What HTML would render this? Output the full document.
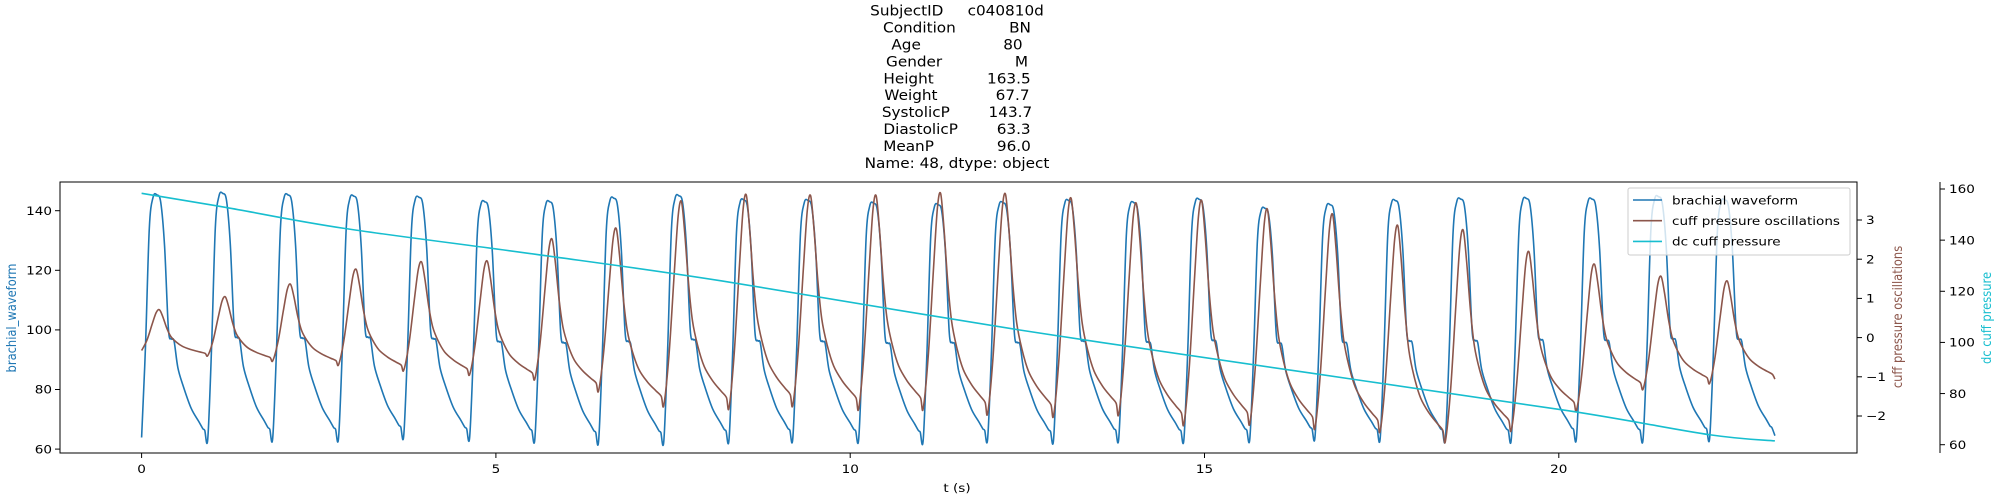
<!DOCTYPE html>
<html><head><meta charset="utf-8"><title>Brachial waveform chart</title>
<style>html,body{margin:0;padding:0;background:#fff}svg{display:block}text{font-family:"DejaVu Sans","Liberation Sans",sans-serif}</style>
</head><body>
<svg id="chart" xmlns="http://www.w3.org/2000/svg" width="2000" height="500" viewBox="0 0 2000 500">
<rect x="0" y="0" width="2000" height="500" fill="#fff"/>
<g id="title"></g>
<g id="series"></g>
<g id="axes"></g>
<g id="legend"></g>
</svg>
<script>
const titleLines = ["SubjectID     c040810d","Condition           BN","Age                 80","Gender               M","Height           163.5","Weight            67.7","SystolicP        143.7","DiastolicP        63.3","MeanP             96.0","Name: 48, dtype: object"];
const xTicks = [0,5,10,15,20];
const leftTicks = [60,80,100,120,140];
const cuffTicks = [-2,-1,0,1,2,3];
const dcTicks = [60,80,100,120,140,160];
const beatFeet = [0,0.934,1.851,2.78,3.70,4.63,5.55,6.45,7.37,8.29,9.19,10.12,11.03,11.94,12.87,13.79,14.71,15.64,16.56,17.48,18.40,19.33,20.25,21.19,22.13,23.05];
const bpPeak = [145.3,145.8,145.3,144.9,144.5,143.0,143.0,144.2,145.0,143.6,143.4,142.5,142.0,142.7,143.4,142.7,143.8,140.8,142.0,143.4,143.9,144.1,143.9,144.7,143.6];
const bpFoot = [63.9,63.5,63.9,63.9,64.7,64.1,63.5,62.9,62.8,63.3,63.6,63.4,63.0,63.6,63.2,63.6,63.4,63.6,64.2,63.8,63.6,63.5,63.9,63.6,64.0,64.5];
const cpStart = -0.33;
const cpPeak = [0.71,1.04,1.36,1.74,1.93,1.95,2.51,2.78,3.47,3.64,3.62,3.62,3.68,3.66,3.55,3.42,3.49,3.27,3.14,2.85,2.74,2.19,1.87,1.56,1.44];
const cpTrough = [-0.46,-0.59,-0.69,-0.83,-0.94,-1.05,-1.35,-1.72,-1.79,-1.72,-1.81,-1.81,-1.93,-1.99,-1.95,-2.20,-2.19,-2.30,-2.38,-2.64,-2.36,-1.85,-1.31,-1.16,-1.06];
const dcTimes = [0,1.19,2.86,5.55,8.2,12.38,16.5,20.13,22.13,23.05];
const dcValues = [158.3,152.8,144.6,134.5,124,104.9,88,73.3,63.9,61.5];
const bpRiseP = [0,0.058,0.116,0.173,0.231];
const bpRiseV = [0,0.37,0.86,0.99,1];
const bpFallP = [0.289,0.347,0.405,0.451,0.491,0.549,0.636,0.75,0.867,0.925,0.954,1];
const bpFallV = [0.97,0.79,0.45,0.41,0.40,0.29,0.21,0.124,0.069,0.041,0.034,0];
const cpRiseP = [0,0.08,0.16,0.22,0.27];
const cpRiseV = [0,0.25,0.65,0.93,1];
const cpFallP = [0.32,0.38,0.44,0.52,0.62,0.75,0.88,0.96,1];
const cpFallV = [0.85,0.6,0.42,0.3,0.2,0.13,0.08,0.05,0];

const NS="http://www.w3.org/2000/svg";
const SX=1.18;
const X0=60,X1=1857,Y0=182,Y1=453;
function xS(t){return 141.6+t*70.86;}
function yL(v){return 210.7+(140-v)*2.98;}
function yR(v){return 220+(3-v)*39.2;}
function yD(v){return 189+(160-v)*2.557;}
function mk(tag,attrs,parent){const e=document.createElementNS(NS,tag);for(const k in attrs)e.setAttribute(k,attrs[k]);parent.appendChild(e);return e;}
function txt(parent,x,y,s,size,anchor,color,rot,name,sx){
  const g=mk('g',{transform:'translate('+x+','+y+') scale('+(sx||SX)+',1)'+(rot?' rotate(-90)':'')},parent);
  
  
  const t=mk('text',{x:0,y:0,'font-size':size,'text-anchor':anchor,fill:color},g);
  t.setAttribute('xml:space','preserve');t.style.whiteSpace='pre';
  t.textContent=s;return t;
}
function smoothPath(pts){
  let d='M'+pts[0][0].toFixed(2)+','+pts[0][1].toFixed(2);
  for(let i=0;i<pts.length-1;i++){
    const p0=pts[i-1]||pts[i],p1=pts[i],p2=pts[i+1],p3=pts[i+2]||p2;
    const c1=[p1[0]+(p2[0]-p0[0])/6,p1[1]+(p2[1]-p0[1])/6];
    const c2=[p2[0]-(p3[0]-p1[0])/6,p2[1]-(p3[1]-p1[1])/6];
    d+='C'+c1[0].toFixed(2)+','+c1[1].toFixed(2)+' '+c2[0].toFixed(2)+','+c2[1].toFixed(2)+' '+p2[0].toFixed(2)+','+p2[1].toFixed(2);
  }
  return d;
}
function beatPts(starts,peaks,ends,riseP,riseV,fallP,fallV,ys){
  const pts=[];
  for(let i=0;i<peaks.length;i++){
    const t0=beatFeet[i],dt=beatFeet[i+1]-t0;
    const s=starts[i],pk=peaks[i],e=ends[i];
    for(let j=(i===0?0:1);j<riseP.length;j++)pts.push([xS(t0+riseP[j]*dt),ys(s+(pk-s)*riseV[j])]);
    for(let j=0;j<fallP.length;j++)pts.push([xS(t0+fallP[j]*dt),ys(e+(pk-e)*fallV[j])]);
  }
  return pts;
}
const tg=document.getElementById('title');
titleLines.forEach((l,i)=>{txt(tg,957,15.7+16.9*i,l,14,'middle','#000',false,'title-line',1.09);});
const sg=document.getElementById('series');
const clip=mk('clipPath',{id:'clip'},sg);mk('rect',{x:X0,y:Y0,width:X1-X0,height:Y1-Y0},clip);
const bpPts=beatPts(bpFoot.slice(0,-1),bpPeak,bpFoot.slice(1),bpRiseP,bpRiseV,bpFallP,bpFallV,yL);
const bp=mk('path',{d:smoothPath(bpPts),fill:'none',stroke:'#1f77b4','stroke-width':1.6,'clip-path':'url(#clip)'},sg);


const cpStarts=[cpStart].concat(cpTrough.slice(0,-1));
const cpPts=beatPts(cpStarts,cpPeak,cpTrough,cpRiseP,cpRiseV,cpFallP,cpFallV,yR);
const cp=mk('path',{d:smoothPath(cpPts),fill:'none',stroke:'#8c564b','stroke-width':1.6,'clip-path':'url(#clip)'},sg);


const dcPts=dcTimes.map((t,i)=>[xS(t),yD(dcValues[i])]);
const dc=mk('path',{d:smoothPath(dcPts),fill:'none',stroke:'#17becf','stroke-width':1.6},sg);


const ag=document.getElementById('axes');
const frame=mk('rect',{x:X0,y:Y0,width:X1-X0,height:Y1-Y0,fill:'none',stroke:'#000','stroke-width':1},ag);


const sp2=mk('line',{x1:1940,y1:Y0,x2:1940,y2:Y1,stroke:'#000','stroke-width':1},ag);


xTicks.forEach(v=>{const x=xS(v);mk('line',{x1:x,y1:Y1,x2:x,y2:Y1+5,stroke:'#000'},ag);txt(ag,x,473,String(v),11.5,'middle','#000',false,'x-tick-label');});
leftTicks.forEach(v=>{const y=yL(v);mk('line',{x1:X0-5,y1:y,x2:X0,y2:y,stroke:'#000'},ag);txt(ag,52,y+4.2,String(v),11.5,'end','#000',false,'left-tick-label');});
cuffTicks.forEach(v=>{const y=yR(v);mk('line',{x1:X1,y1:y,x2:X1+5,y2:y,stroke:'#000'},ag);txt(ag,1866,y+4.2,String(v).replace('-','\u2212'),11.5,'start','#000',false,'cuff-tick-label');});
dcTicks.forEach(v=>{const y=yD(v);mk('line',{x1:1940,y1:y,x2:1945,y2:y,stroke:'#000'},ag);txt(ag,1949,y+4.2,String(v),11.5,'start','#000',false,'dc-tick-label');});
txt(ag,957,492,'t (s)',11.5,'middle','#000',false,'x-axis-title');
txt(ag,16,318,'brachial_waveform',11.5,'middle','#1f77b4',true,'left-axis-title');
txt(ag,1902,317,'cuff pressure oscillations',11.5,'middle','#8c564b',true,'cuff-axis-title');
txt(ag,1991,318,'dc cuff pressure',11.5,'middle','#17becf',true,'dc-axis-title');
const lg=document.getElementById('legend');
const lbox=mk('rect',{x:1628,y:188,width:222,height:67,rx:2,fill:'#fff','fill-opacity':0.8,stroke:'#ccc'},lg);


const legNames=['brachial waveform','cuff pressure oscillations','dc cuff pressure'];
const legColors=['#1f77b4','#8c564b','#17becf'];
legNames.forEach((n,i)=>{const y=200+20.7*i;
  const ln=mk('line',{x1:1633,y1:y,x2:1662,y2:y,stroke:legColors[i],'stroke-width':1.6},lg);
  
  
  txt(lg,1672,y+4.3,n,11.5,'start','#000',false,'legend-entry');});
</script>
</body></html>
